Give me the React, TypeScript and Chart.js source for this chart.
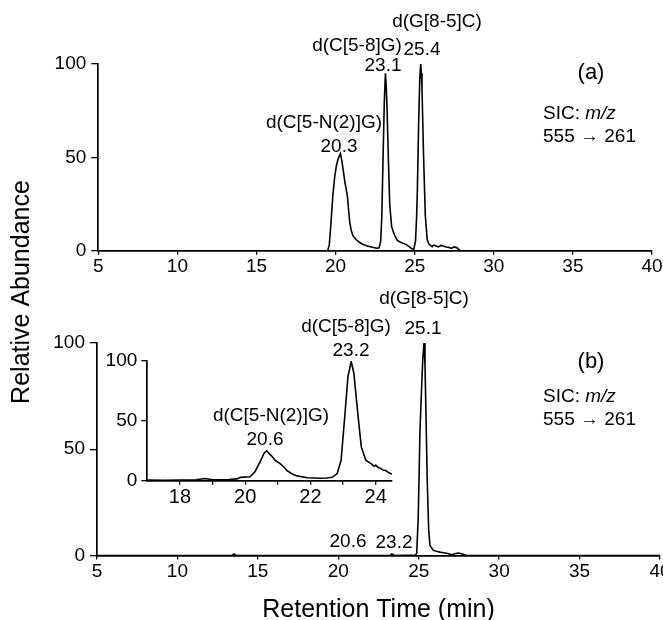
import React, { useEffect, useRef } from "react";
import { Chart, registerables } from "chart.js";

Chart.register(...registerables);

const FONT = '"Liberation Sans", Arial, Helvetica, sans-serif';
const W = 663;
const H = 620;

// ---------------- data ----------------
// Panel (a): SIC trace (time in min, relative abundance in %)
const timeA = [
  5, 19.5, 19.6, 19.7, 19.83, 19.95, 20.04, 20.15, 20.3, 20.4, 20.5, 20.6, 20.67, 20.75,
  20.83, 20.9, 20.98, 21.1, 21.29, 21.5, 21.71, 22.0, 22.33, 22.6, 22.75, 22.85, 22.92,
  23.0, 23.08, 23.15, 23.2, 23.25, 23.33, 23.42, 23.54, 23.65, 23.75, 23.9, 24.1, 24.25,
  24.42, 24.63, 24.8, 24.94, 25.05, 25.12, 25.17, 25.25, 25.32, 25.38, 25.42, 25.46,
  25.56, 25.67, 25.79, 25.9, 25.98, 26.1, 26.2, 26.35, 26.5, 26.65, 26.8, 27.0, 27.15,
  27.3, 27.5, 27.7, 27.8, 27.9, 40,
];
const abundanceA = [
  0, 0, 3, 14, 30, 40, 45, 49, 52, 48, 42, 36, 33, 29,
  21, 15, 11, 8, 6, 4.5, 3.5, 2.5, 1.8, 1.3, 1.5, 5, 18,
  50, 80, 95, 88, 77, 51, 25, 13, 10, 8, 5.5, 4.5, 4,
  3.5, 2.3, 1.2, 0.8, 5, 18, 33, 69, 92, 100, 95, 87,
  51, 19, 6, 3.5, 3, 2.2, 3, 2.5, 2, 2.8, 2.5, 2, 1.8,
  1.2, 2, 1.5, 0.5, 0, 0,
];

// Panel (b): SIC trace
const timeB = [
  5, 13.4, 13.52, 13.65, 23.2, 23.34, 23.5, 24.8, 24.875, 24.97, 25.08, 25.16, 25.25,
  25.33, 25.39, 25.45, 25.53, 25.62, 25.7, 25.91, 26.1, 26.32, 26.55, 26.74, 27.05,
  27.3, 27.46, 27.67, 27.98, 40,
];
const abundanceB = [
  0, 0, 0.7, 0, 0, 0.7, 0, 0.2, 1, 18, 59, 75, 92,
  100, 90, 67, 35, 12, 4.7, 2.4, 2, 1.6, 1.3, 1.1, 0.4,
  0.9, 1.2, 0.8, 0, 0,
];

// Panel (b) inset: expanded 17-24.5 min
const timeInset = [
  17, 17.5, 18.0, 18.5, 18.77, 19.0, 19.5, 19.75, 19.85, 20.15, 20.3, 20.46, 20.58, 20.66,
  20.72, 20.8, 20.92, 21.08, 21.2, 21.28, 21.45, 21.59, 21.9, 22.3, 22.5, 22.67, 22.82,
  22.94, 23.05, 23.15, 23.25, 23.33, 23.46, 23.56, 23.7, 23.85, 23.95, 24.0, 24.08,
  24.15, 24.22, 24.31, 24.38, 24.45, 24.5,
];
const abundanceInset = [
  0.5, 0.3, 0.5, 0.8, 1.8, 0.8, 1, 1.5, 2.8, 3.3, 7.5, 16, 23, 25,
  23, 21, 17, 14, 11, 8.5, 5.5, 4, 2.5, 2, 2.2, 2.8, 6,
  17, 53, 87, 99.5, 90, 54, 28, 17, 14.5, 12, 13, 11,
  10.3, 9, 8.5, 7, 6, 5.6,
];

const mainXTicks = [5, 10, 15, 20, 25, 30, 35, 40];
const mainYTicks = [0, 50, 100];
const insetXTicks = [18, 19, 20, 21, 22, 23, 24];
const insetXLabels = [18, 20, 22, 24];
const insetYTicks = [0, 50, 100];

// ---------------- text annotations ----------------
type Part = { s: string; italic?: boolean };
type Note = {
  parts: Part[];
  px: number;
  py: number;
  size?: number;
  align?: "left" | "center";
  rotate?: boolean;
};

const notesA: Note[] = [
  { parts: [{ s: "d(G[8-5]C)" }], px: 437, py: 22 },
  { parts: [{ s: "25.4" }], px: 422, py: 50 },
  { parts: [{ s: "d(C[5-8]G)" }], px: 357, py: 46 },
  { parts: [{ s: "23.1" }], px: 383, py: 66 },
  { parts: [{ s: "d(C[5-N(2)]G)" }], px: 324, py: 123 },
  { parts: [{ s: "20.3" }], px: 339, py: 147 },
  { parts: [{ s: "(a)" }], px: 591, py: 73, size: 22 },
  { parts: [{ s: "SIC: " }, { s: "m/z", italic: true }], px: 543, py: 114, align: "left" },
  { parts: [{ s: "555 \u2192 261" }], px: 543, py: 137, align: "left" },
  { parts: [{ s: "Relative Abundance" }], px: 22, py: 292, size: 25, rotate: true },
];

const notesB: Note[] = [
  { parts: [{ s: "d(G[8-5]C)" }], px: 424, py: 299 },
  { parts: [{ s: "25.1" }], px: 423, py: 329 },
  { parts: [{ s: "d(C[5-8]G)" }], px: 346, py: 327 },
  { parts: [{ s: "23.2" }], px: 351, py: 351 },
  { parts: [{ s: "(b)" }], px: 591, py: 362, size: 22 },
  { parts: [{ s: "SIC: " }, { s: "m/z", italic: true }], px: 543, py: 397, align: "left" },
  { parts: [{ s: "555 \u2192 261" }], px: 543, py: 420, align: "left" },
  { parts: [{ s: "20.6" }], px: 348, py: 542 },
  { parts: [{ s: "23.2" }], px: 394, py: 543 },
];

const notesInset: Note[] = [
  { parts: [{ s: "d(C[5-N(2)]G)" }], px: 271, py: 416 },
  { parts: [{ s: "20.6" }], px: 265, py: 440 },
];

// ---------------- helpers ----------------
function makeNotesPlugin(notes: Note[]) {
  return {
    id: "peakNotes",
    afterDraw(chart: any) {
      const { ctx } = chart;
      ctx.save();
      ctx.fillStyle = "#000";
      ctx.textBaseline = "middle";
      ctx.textAlign = "left";
      for (const n of notes) {
        const size = n.size ?? 19;
        const widths = n.parts.map((p) => {
          ctx.font = `${p.italic ? "italic " : ""}${size}px ${FONT}`;
          return ctx.measureText(p.s).width;
        });
        const total = widths.reduce((a, b) => a + b, 0);
        ctx.save();
        ctx.translate(n.px, n.py);
        if (n.rotate) ctx.rotate(-Math.PI / 2);
        let x = n.align === "left" ? 0 : -total / 2;
        n.parts.forEach((p, i) => {
          ctx.font = `${p.italic ? "italic " : ""}${size}px ${FONT}`;
          ctx.fillText(p.s, x, 0);
          x += widths[i];
        });
        ctx.restore();
      }
      ctx.restore();
    },
  };
}

type Box = { left: number; top: number; right: number; bottom: number; xAxisH: number };

function buildConfig(opts: {
  times: number[];
  values: number[];
  xMin: number;
  xMax: number;
  xTicks: number[];
  xLabels: number[];
  yTicks: number[];
  box: Box;
  notes: Note[];
  xTitle?: string;
  yTickLen: number;
  yPad: number;
  xTickFont: number;
}) {
  const { box } = opts;
  return {
    type: "line" as const,
    data: {
      datasets: [
        {
          data: opts.times.map((t, i) => ({ x: t, y: opts.values[i] })),
          borderColor: "#000",
          borderWidth: 1.6,
          pointRadius: 0,
          tension: 0,
          fill: false,
        },
      ],
    },
    options: {
      animation: false as const,
      responsive: false,
      maintainAspectRatio: false,
      events: [] as any[],
      layout: {
        padding: {
          left: 0,
          top: box.top,
          right: W - box.right,
          bottom: H - box.bottom - box.xAxisH,
        },
      },
      plugins: {
        legend: { display: false },
        tooltip: { enabled: false },
        title: { display: false },
      },
      scales: {
        x: {
          type: "linear" as const,
          min: opts.xMin,
          max: opts.xMax,
          afterBuildTicks: (s: any) => {
            s.ticks = opts.xTicks.map((v) => ({ value: v }));
          },
          afterFit: (s: any) => {
            s.height = box.xAxisH;
            s.paddingLeft = 0;
            s.paddingRight = 0;
          },
          grid: {
            drawOnChartArea: false,
            drawTicks: true,
            tickLength: 4,
            color: "#000",
            lineWidth: 1.3,
          },
          border: { display: true, color: "#000", width: 1.7 },
          ticks: {
            color: "#000",
            font: { family: FONT, size: opts.xTickFont },
            padding: 1,
            maxRotation: 0,
            autoSkip: false,
            callback: (v: any) => (opts.xLabels.includes(Number(v)) ? String(v) : ""),
          },
          title: opts.xTitle
            ? {
                display: true,
                text: opts.xTitle,
                color: "#000",
                font: { family: FONT, size: 25, lineHeight: 0.8 },
                padding: { top: 0, bottom: 0 },
              }
            : { display: false },
        },
        y: {
          type: "linear" as const,
          min: 0,
          max: 100,
          afterBuildTicks: (s: any) => {
            s.ticks = opts.yTicks.map((v) => ({ value: v }));
          },
          afterFit: (s: any) => {
            s.width = box.left;
          },
          grid: {
            drawOnChartArea: false,
            drawTicks: true,
            tickLength: opts.yTickLen,
            color: "#000",
            lineWidth: 1.3,
          },
          border: { display: true, color: "#000", width: 1.7 },
          ticks: {
            color: "#000",
            font: { family: FONT, size: 19 },
            padding: opts.yPad,
            autoSkip: false,
            callback: (v: any) => String(v),
          },
        },
      },
    },
    plugins: [makeNotesPlugin(opts.notes)],
  };
}

function ChartLayer({ config }: { config: any }) {
  const ref = useRef<HTMLCanvasElement | null>(null);
  useEffect(() => {
    if (!ref.current) return;
    const chart = new Chart(ref.current, config);
    return () => chart.destroy();
  }, [config]);
  return (
    <canvas
      ref={ref}
      width={W}
      height={H}
      style={{ position: "absolute", left: 0, top: 0, width: W, height: H }}
    />
  );
}

const configA = buildConfig({
  times: timeA,
  values: abundanceA,
  xMin: 5,
  xMax: 40,
  xTicks: mainXTicks,
  xLabels: mainXTicks,
  yTicks: mainYTicks,
  box: { left: 98.3, top: 64, right: 652, bottom: 250.7, xAxisH: 40 },
  notes: notesA,
  yTickLen: 7,
  yPad: 5,
  xTickFont: 19,
});

const configB = buildConfig({
  times: timeB,
  values: abundanceB,
  xMin: 5,
  xMax: 40,
  xTicks: mainXTicks,
  xLabels: mainXTicks,
  yTicks: mainYTicks,
  box: { left: 97, top: 343, right: 660, bottom: 555.5, xAxisH: 64.5 },
  notes: notesB,
  xTitle: "Retention Time (min)",
  yTickLen: 7,
  yPad: 5,
  xTickFont: 19,
});

const configInset = buildConfig({
  times: timeInset,
  values: abundanceInset,
  xMin: 17,
  xMax: 24.5,
  xTicks: insetXTicks,
  xLabels: insetXLabels,
  yTicks: insetYTicks,
  box: { left: 147.3, top: 361, right: 392, bottom: 480.7, xAxisH: 30 },
  notes: notesInset,
  yTickLen: 6,
  yPad: 4,
  xTickFont: 20,
});

export default function App() {
  return (
    <div
      style={{
        position: "absolute",
        left: 0,
        top: 0,
        width: W,
        height: H,
        background: "#fff",
        overflow: "hidden",
      }}
    >
      <ChartLayer config={configA} />
      <ChartLayer config={configB} />
      <ChartLayer config={configInset} />
    </div>
  );
}
